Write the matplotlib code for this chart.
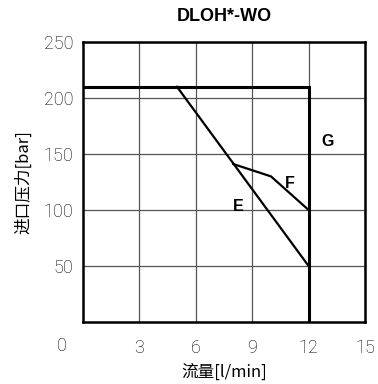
import matplotlib
matplotlib.use('Agg')
import matplotlib.pyplot as plt

plt.rcParams['font.family'] = ['Noto Sans CJK SC', 'DejaVu Sans']

# Pressure limit curves (flow l/min, inlet pressure bar)
limit_flow = [0, 12, 12]
limit_pressure = [210, 210, 0]

e_flow = [5, 12]
e_pressure = [210, 50]

f_flow = [8, 10, 12]
f_pressure = [141, 130, 100]

region_labels = ["E", "F", "G"]
region_flow = [8.25, 11.0, 13.0]
region_pressure = [103, 124, 161]

x_ticks = [3, 6, 9, 12, 15]
y_ticks = [50, 100, 150, 200, 250]

num_font = dict(family=['Roboto', 'DejaVu Sans'], weight='light', size=13)
bold_font = ['Liberation Sans', 'DejaVu Sans']

fig = plt.figure(figsize=(3.78, 3.84), dpi=100)
ax = fig.add_axes([83 / 378, 1 - 322 / 384, 282 / 378, 280 / 384])

ax.set_xlim(0, 15)
ax.set_ylim(0, 250)
ax.set_xticks(x_ticks)
ax.set_yticks(y_ticks)
ax.set_xticklabels([str(v) for v in x_ticks], fontdict=num_font)
ax.set_yticklabels([str(v) for v in y_ticks], fontdict=num_font)
ax.grid(True, color='#555555', linewidth=0.9)
ax.tick_params(length=0)
ax.tick_params(axis='y', pad=7)
ax.tick_params(axis='x', pad=12)
for s in ax.spines.values():
    s.set_linewidth(1.8)

ax.plot(limit_flow, limit_pressure, color='black', linewidth=2.2, solid_joinstyle='miter')
ax.plot(e_flow, e_pressure, color='black', linewidth=1.6)
ax.plot(f_flow, f_pressure, color='black', linewidth=1.6)

for t, x, y in zip(region_labels, region_flow, region_pressure):
    ax.text(x, y, t, fontsize=11.5, fontweight='bold', family=bold_font,
            ha='center', va='center')

# origin label sits left of the corner, in line with the x tick labels
ax.annotate("0", xy=(0, 0), xycoords='data', xytext=(-21, -24),
            textcoords='offset pixels', ha='center', va='center',
            fontfamily=num_font['family'], fontweight='light', fontsize=13)

ax.set_title("DLOH*-WO", fontsize=13, fontweight='bold', family=bold_font, pad=15)
ax.set_xlabel("流量[l/min]", fontsize=12, fontweight='light', labelpad=5)
ax.set_ylabel("进口压力[bar]", fontsize=12, fontweight='light', labelpad=8)

fig.savefig("out.png", dpi=100)
